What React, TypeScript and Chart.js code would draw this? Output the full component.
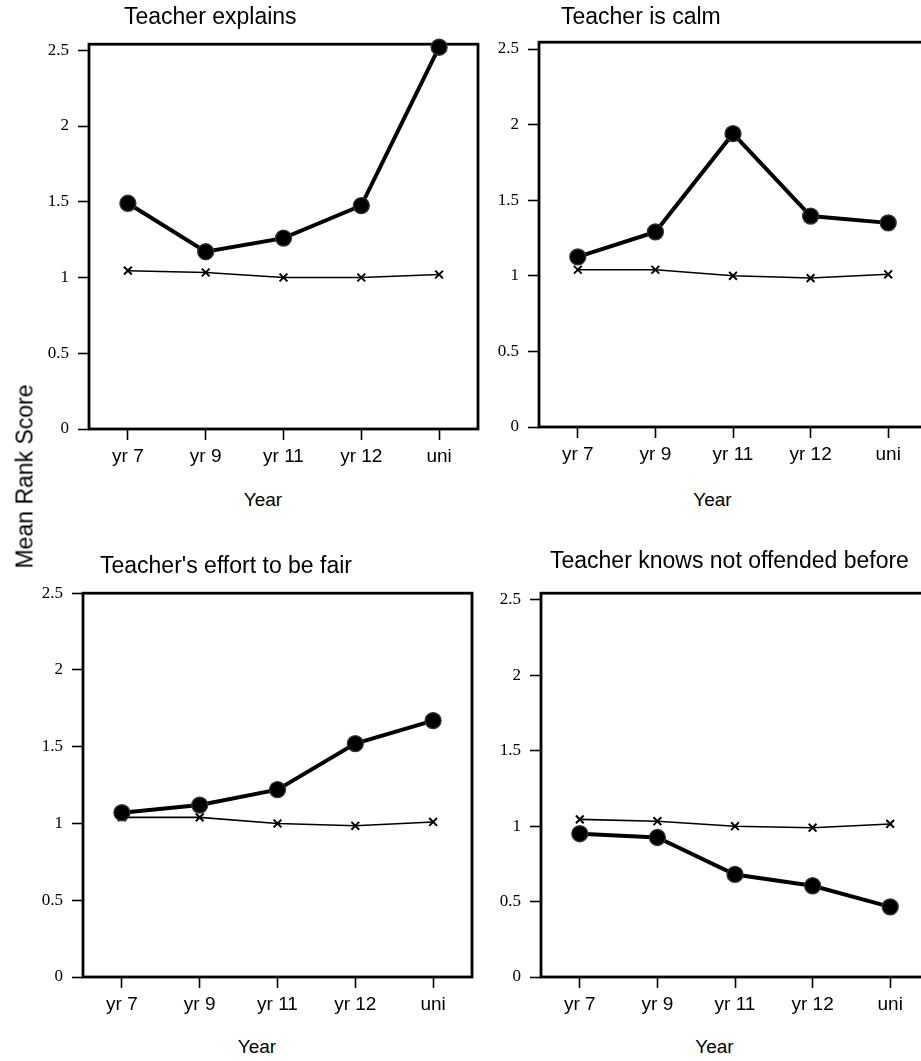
import React, { useEffect, useRef } from "react";
import { Chart, registerables } from "chart.js";

Chart.register(...registerables);

// ---------- data ----------
const categories = ["yr 7", "yr 9", "yr 11", "yr 12", "uni"];
const yTicks = [0, 0.5, 1, 1.5, 2, 2.5];

const explainsMain = [1.49, 1.17, 1.26, 1.475, 2.52];
const explainsBase = [1.045, 1.033, 1.0, 1.0, 1.02];
const calmMain = [1.125, 1.29, 1.94, 1.395, 1.35];
const calmBase = [1.04, 1.04, 1.0, 0.985, 1.01];
const fairMain = [1.07, 1.12, 1.22, 1.52, 1.67];
const fairBase = [1.04, 1.04, 1.0, 0.985, 1.01];
const offendedMain = [0.95, 0.925, 0.68, 0.605, 0.465];
const offendedBase = [1.045, 1.033, 1.0, 0.99, 1.015];

const titles = [
  "Teacher explains",
  "Teacher is calm",
  "Teacher's effort to be fair",
  "Teacher knows not offended before",
];
const xAxisTitle = "Year";
const yAxisTitle = "Mean Rank Score";

// ---------- layout ----------
const AXIS_W = 80;
const AXIS_H = 45;
const PAD_T = 15;
const PAD_R = 15;

type Panel = {
  title: string;
  main: number[];
  base: number[];
  left: number;
  right: number;
  top: number;
  bottom: number;
  yMax: number;
  titleX: number;
  titleTop: number;
  yearTop: number;
};

const panels: Panel[] = [
  { title: titles[0], main: explainsMain, base: explainsBase, left: 89, right: 478, top: 40, bottom: 429, yMax: 2.54, titleX: 124, titleTop: 4.5, yearTop: 489.6 },
  { title: titles[1], main: calmMain, base: calmBase, left: 539, right: 927, top: 38, bottom: 427, yMax: 2.545, titleX: 561, titleTop: 4.8, yearTop: 489.6 },
  { title: titles[2], main: fairMain, base: fairBase, left: 83, right: 472, top: 589, bottom: 977, yMax: 2.5, titleX: 100, titleTop: 553.8, yearTop: 1037.2 },
  { title: titles[3], main: offendedMain, base: offendedBase, left: 541, right: 929, top: 589, bottom: 977, yMax: 2.545, titleX: 550, titleTop: 549.2, yearTop: 1037.2 },
];

const SANS = "'Liberation Sans', Arial, Helvetica, sans-serif";
const SERIF = "'Liberation Serif', 'Times New Roman', serif";

const boxPlugin = {
  id: "boxFrame",
  beforeDatasetsDraw(chart: any) {
    const { ctx, chartArea } = chart;
    ctx.save();
    ctx.strokeStyle = "#000";
    ctx.lineWidth = 2.8;
    ctx.strokeRect(chartArea.left, chartArea.top, chartArea.right - chartArea.left, chartArea.bottom - chartArea.top);
    ctx.restore();
  },
};

function PanelChart({ p }: { p: Panel }) {
  const ref = useRef<HTMLCanvasElement | null>(null);
  const width = p.right - p.left + AXIS_W + PAD_R;
  const height = p.bottom - p.top + PAD_T + AXIS_H;

  useEffect(() => {
    if (!ref.current) return;
    const chart = new Chart(ref.current, {
      type: "line",
      data: {
        labels: categories,
        datasets: [
          {
            data: p.main,
            borderColor: "#000",
            borderWidth: 4,
            backgroundColor: "#000",
            pointBackgroundColor: "#000",
            pointBorderColor: "#333",
            pointBorderWidth: 1.3,
            pointRadius: 8,
            pointStyle: "circle",
            tension: 0,
            clip: false,
          },
          {
            data: p.base,
            borderColor: "#000",
            borderWidth: 1.6,
            pointBorderColor: "#000",
            pointBackgroundColor: "#000",
            pointBorderWidth: 2,
            pointRadius: 5.5,
            pointStyle: "crossRot",
            tension: 0,
            clip: false,
          },
        ],
      },
      options: {
        responsive: false,
        animation: false,
        events: [],
        devicePixelRatio: 1,
        layout: { padding: { top: PAD_T, right: PAD_R, left: 0, bottom: 0 } },
        plugins: { legend: { display: false }, tooltip: { enabled: false }, title: { display: false } },
        scales: {
          x: {
            type: "category",
            offset: true,
            border: { display: false },
            grid: {
              offset: false,
              drawOnChartArea: false,
              drawTicks: true,
              tickLength: 11,
              tickWidth: 1.6,
              tickColor: "#000",
            },
            ticks: {
              color: "#000",
              padding: 5,
              maxRotation: 0,
              autoSkip: false,
              font: { family: SANS, size: 19 },
            },
            afterFit: (s: any) => {
              s.height = AXIS_H;
            },
          },
          y: {
            type: "linear",
            min: 0,
            max: p.yMax,
            border: { display: false },
            grid: {
              drawOnChartArea: false,
              drawTicks: true,
              tickLength: 11,
              tickWidth: 1.6,
              tickColor: "#000",
            },
            ticks: {
              color: "#000",
              padding: 9,
              font: { family: SERIF, size: 17 },
              callback: (v: any) => String(v),
            },
            afterBuildTicks: (s: any) => {
              s.ticks = yTicks.map((v) => ({ value: v }));
            },
            afterFit: (s: any) => {
              s.width = AXIS_W;
            },
          },
        },
      },
      plugins: [boxPlugin],
    });
    return () => chart.destroy();
  }, [p]);

  return (
    <>
      <canvas
        ref={ref}
        width={width}
        height={height}
        style={{ position: "absolute", left: p.left - AXIS_W, top: p.top - PAD_T, width, height }}
      />
      <div
        style={{
          position: "absolute",
          left: p.titleX,
          top: p.titleTop,
          fontFamily: SANS,
          fontSize: 23,
          lineHeight: 1,
          whiteSpace: "nowrap",
          color: "#000",
        }}
      >
        {p.title}
      </div>
      <div
        style={{
          position: "absolute",
          left: (p.left + p.right) / 2 - 20.5 - 100,
          width: 200,
          textAlign: "center",
          top: p.yearTop,
          fontFamily: SANS,
          fontSize: 19,
          lineHeight: 1,
          color: "#000",
        }}
      >
        {xAxisTitle}
      </div>
    </>
  );
}

export default function App() {
  return (
    <div
      style={{
        position: "absolute",
        left: 0,
        top: 0,
        width: 921,
        height: 1061,
        overflow: "hidden",
        background: "#fff",
      }}
    >
      {panels.map((p, i) => (
        <PanelChart key={i} p={p} />
      ))}
      <div
        style={{
          position: "absolute",
          left: 25 - 150,
          top: 476 - 11.5,
          width: 300,
          height: 23,
          textAlign: "center",
          fontFamily: SANS,
          fontSize: 23,
          lineHeight: 1,
          whiteSpace: "nowrap",
          transform: "rotate(-90deg)",
          color: "#000",
        }}
      >
        {yAxisTitle}
      </div>
    </div>
  );
}
